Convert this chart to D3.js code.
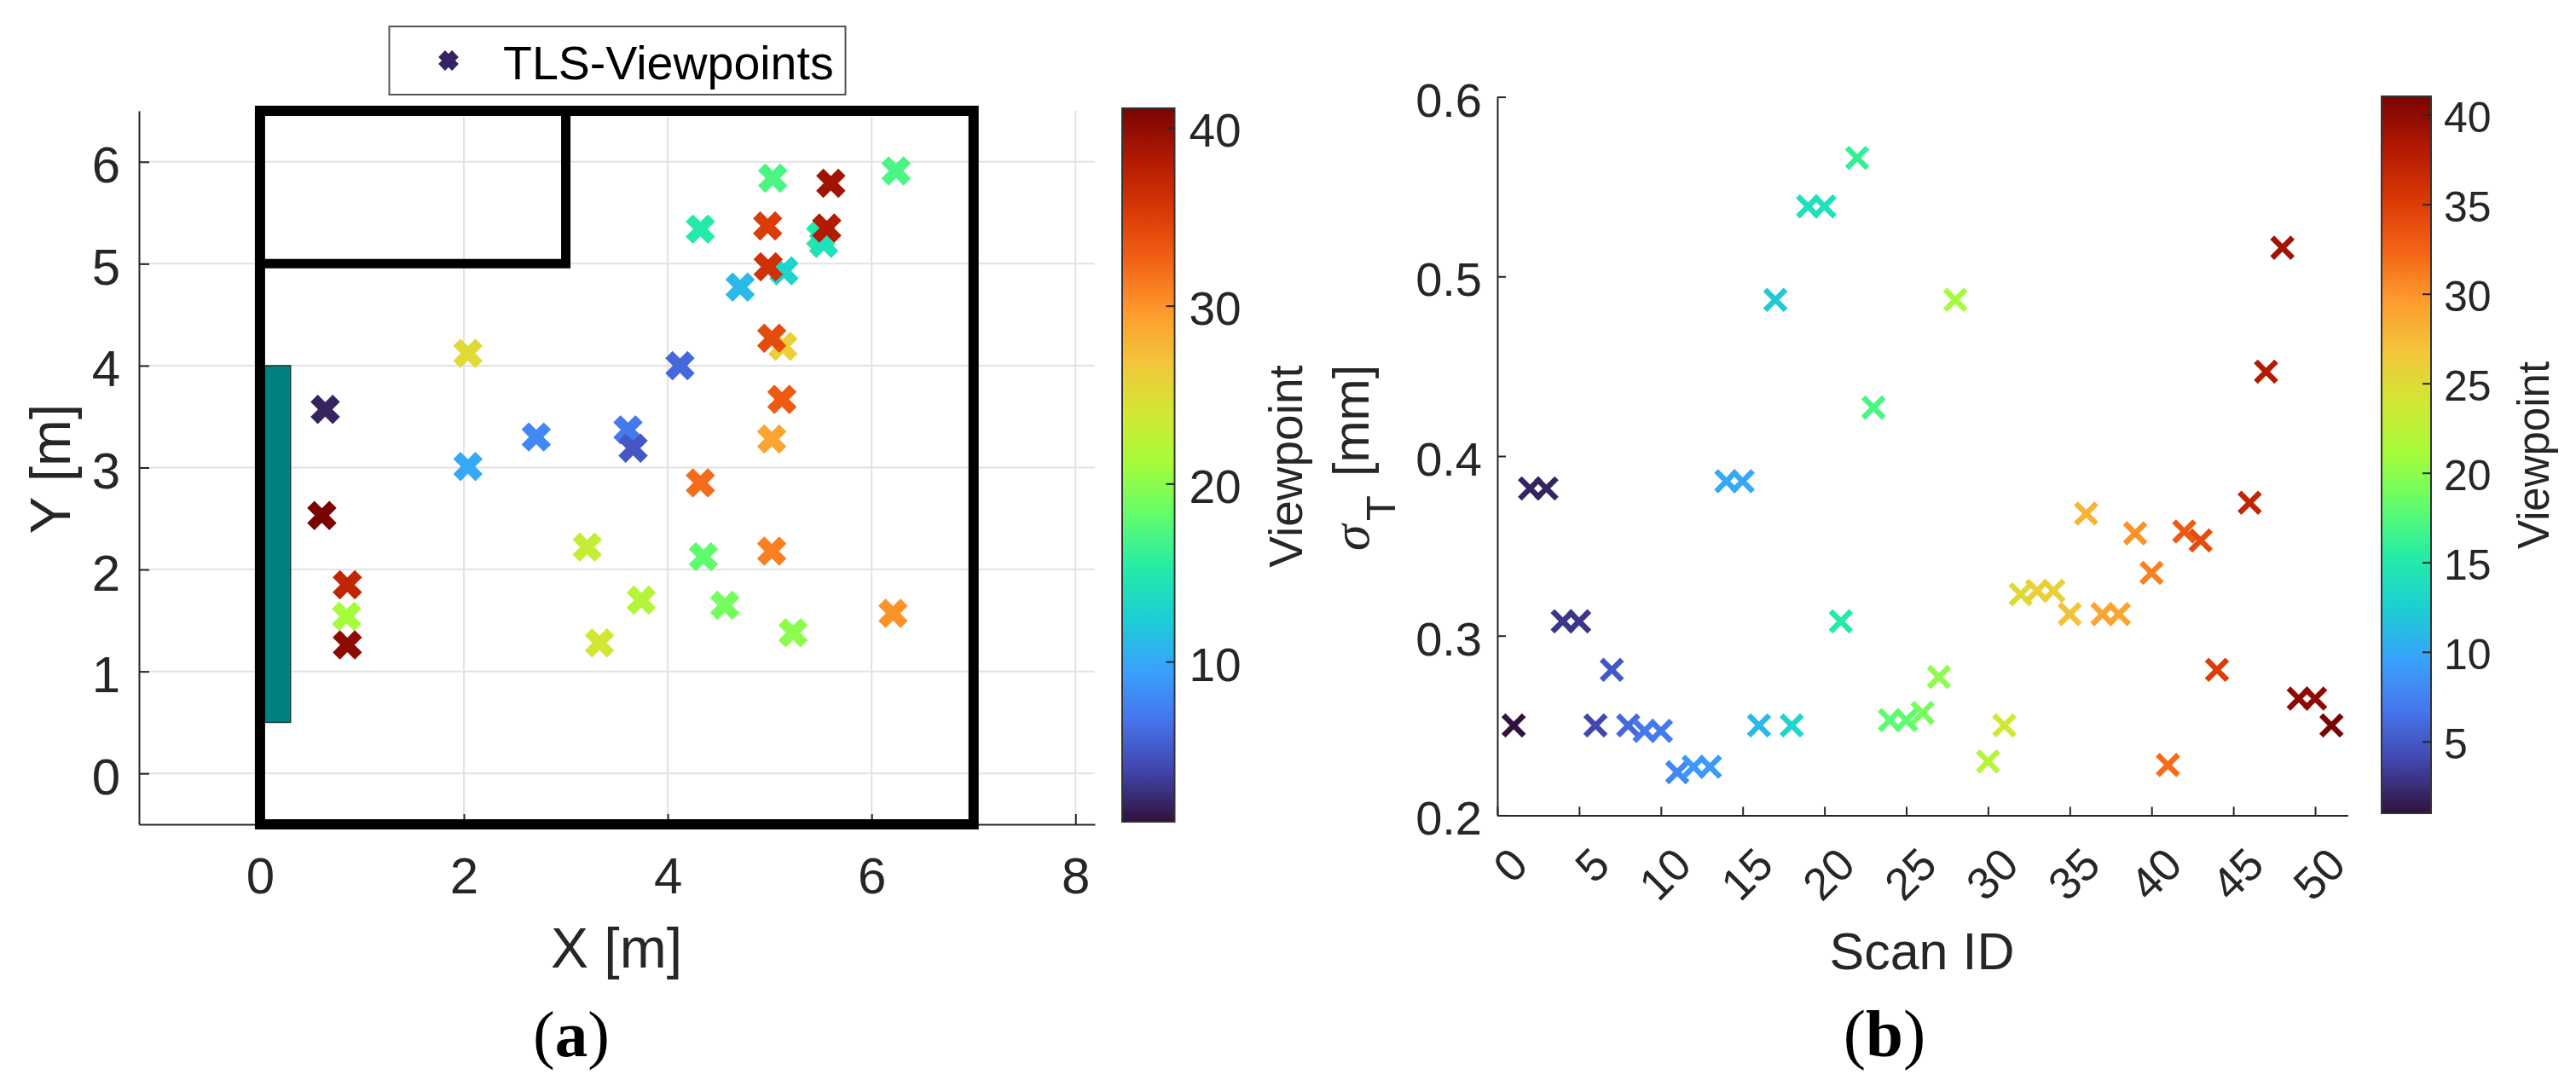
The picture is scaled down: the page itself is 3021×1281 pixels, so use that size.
<!DOCTYPE html>
<html>
<head>
<meta charset="utf-8">
<title>TLS viewpoints</title>
<script src="https://cdn.jsdelivr.net/npm/d3@7"></script>
<style>
  html, body { margin: 0; background: #fff; }
  text { font-family: "Liberation Sans", Arial, sans-serif; fill: #262626; }
  .caption { font-family: "Liberation Serif", serif; fill: #000; }
  .domain, .tick line { stroke: #262626; stroke-width: 2; }
</style>
</head>
<body>
<svg id="chart" width="3021" height="1281"></svg>
<script>
// --- Data ---
// (a) room plan: one entry per marker
const planX = [0.64, 5.03, 6.24, 4.32, 5.50, 5.53, 5.14, 4.71, 4.12, 2.04, 2.71, 3.61, 3.66, 2.04, 5.13, 4.35, 4.56, 5.23, 0.85, 3.74, 3.21, 3.33, 5.02, 5.02, 6.21, 4.32, 5.12, 5.02, 4.98, 4.985, 0.857, 5.56, 5.6, 0.857, 0.607];
const planY = [3.57, 5.84, 5.91, 5.34, 5.27, 5.20, 4.93, 4.77, 4.00, 3.01, 3.30, 3.37, 3.19, 4.12, 4.19, 2.125, 1.65, 1.38, 1.54, 1.70, 2.22, 1.28, 3.28, 2.18, 1.57, 2.85, 3.67, 4.27, 5.37, 4.97, 1.85, 5.35, 5.79, 1.26, 2.53];
const planViewpoint = [2, 17, 17, 15, 15, 14, 13, 11, 6, 10, 8, 7, 5, 25, 26, 18, 19, 20, 21, 22, 23, 24, 29, 31, 30, 32, 33, 34, 35, 36, 37, 38, 39, 40, 41];

// (b) sigma per scan
const scanId = [1, 2, 3, 4, 5, 6, 7, 8, 9, 10, 11, 12, 13, 14, 15, 16, 17, 18, 19, 20, 21, 22, 23, 24, 25, 26, 27, 28, 30, 31, 32, 33, 34, 35, 36, 37, 38, 39, 40, 41, 42, 43, 44, 46, 47, 48, 49, 50, 51];
const scanSigma = [0.25, 0.382, 0.382, 0.308, 0.308, 0.25, 0.281, 0.25, 0.247, 0.247, 0.224, 0.227, 0.227, 0.386, 0.386, 0.25, 0.487, 0.25, 0.539, 0.539, 0.308, 0.566, 0.427, 0.253, 0.253, 0.257, 0.277, 0.487, 0.23, 0.25, 0.323, 0.325, 0.325, 0.312, 0.368, 0.312, 0.312, 0.357, 0.335, 0.228, 0.358, 0.353, 0.281, 0.374, 0.447, 0.516, 0.265, 0.265, 0.25];
const scanViewpoint = [1, 2, 2, 3, 3, 4, 5, 6, 7, 7, 8, 9, 9, 10, 10, 11, 12, 13, 14, 14, 15, 16, 17, 18, 18, 19, 20, 21, 22, 24, 25, 26, 26, 27, 28, 29, 29, 30, 31, 32, 33, 34, 35, 37, 38, 39, 40, 40, 41];

const planXTicks = [0, 2, 4, 6, 8];
const planYTicks = [0, 1, 2, 3, 4, 5, 6];
const scanXTicks = [0, 5, 10, 15, 20, 25, 30, 35, 40, 45, 50];
const scanYTicks = [0.2, 0.3, 0.4, 0.5, 0.6];
const barTicksA = [10, 20, 30, 40];
const barTicksB = [5, 10, 15, 20, 25, 30, 35, 40];

// turbo colormap stops
const turboStops = ['#30123b', '#4145ab', '#4675ed', '#39a2fc', '#1bcfd4', '#24eca6', '#61fc6c', '#a4fc3b', '#d1e834', '#f3c63a', '#fe9b2d', '#f36315', '#d93806', '#b11901', '#7a0403'];

// --- Scales ---
const color = d3.scaleLinear()
    .domain(turboStops.map((_, i) => 1 + 40 * i / (turboStops.length - 1)))
    .range(turboStops);

const xA = d3.scaleLinear().domain([-1.187, 8.19]).range([163, 1284]);
const yA = d3.scaleLinear().domain([-0.5, 6.5]).range([967, 130]);
const cA = d3.scaleLinear().domain([1, 41]).range([964, 129]);

const xB = d3.scaleLinear().domain([0, 52]).range([1756, 2753.4]);
const yB = d3.scaleLinear().domain([0.2, 0.6]).range([956.4, 113.6]);
const cB = d3.scaleLinear().domain([1, 41]).range([953.8, 113.6]);

const svg = d3.select('#chart');

// gradient for both colorbars
const grad = svg.append('defs').append('linearGradient')
    .attr('id', 'turbo')
    .attr('x1', 0).attr('y1', 1).attr('x2', 0).attr('y2', 0);
grad.selectAll('stop').data(turboStops).enter().append('stop')
    .attr('offset', (d, i) => i / (turboStops.length - 1))
    .attr('stop-color', d => d);

function crossPath(r) {
    return `M${-r},${-r}L${r},${r}M${-r},${r}L${r},${-r}`;
}

function drawCrosses(g, xs, ys, vs, x, y, r, width) {
    g.selectAll('path.cross')
        .data(xs.map((d, i) => ({ x: d, y: ys[i], v: vs[i] })))
        .enter()
        .append('path')
        .attr('class', 'cross')
        .attr('d', crossPath(r))
        .attr('transform', d => `translate(${x(d.x)},${y(d.y)})`)
        .attr('fill', 'none')
        .attr('stroke', d => color(d.v))
        .attr('stroke-width', width);
}

function drawColorbar(scale, ticks, left, right, top, bottom, fontSize, padding) {
    svg.append('rect')
        .attr('x', left).attr('y', top)
        .attr('width', right - left).attr('height', bottom - top)
        .attr('fill', 'url(#turbo)')
        .attr('stroke', '#333')
        .attr('stroke-width', 2);
    const axis = svg.append('g')
        .attr('transform', `translate(${right},0)`)
        .call(d3.axisRight(scale).tickValues(ticks).tickSize(-10).tickPadding(padding));
    axis.select('.domain').remove();
    axis.selectAll('text').attr('font-size', fontSize).attr('dy', '0.4em');
}

function rotatedLabel(text, x, y, size) {
    svg.append('text')
        .attr('transform', `translate(${x},${y}) rotate(-90)`)
        .attr('text-anchor', 'middle')
        .attr('font-size', size)
        .text(text);
}

// --- (a) Room plan ---
const gridA = svg.append('g').attr('stroke', '#e2e2e2').attr('stroke-width', 2);
gridA.selectAll('line.v').data(planXTicks).enter().append('line')
    .attr('x1', d => xA(d)).attr('x2', d => xA(d))
    .attr('y1', yA.range()[1]).attr('y2', yA.range()[0]);
gridA.selectAll('line.h').data(planYTicks).enter().append('line')
    .attr('y1', d => yA(d)).attr('y2', d => yA(d))
    .attr('x1', xA.range()[0]).attr('x2', xA.range()[1]);

const axisLeftA = svg.append('g')
    .attr('transform', `translate(${xA.range()[0]},0)`)
    .call(d3.axisLeft(yA).tickValues(planYTicks).tickFormat(d3.format('d')).tickSize(-12).tickSizeOuter(0).tickPadding(22));
axisLeftA.selectAll('text').attr('font-size', 60).attr('dy', '0.4em');

const axisBottomA = svg.append('g')
    .attr('transform', `translate(0,${yA.range()[0]})`)
    .call(d3.axisBottom(xA).tickValues(planXTicks).tickSize(-12).tickSizeOuter(0).tickPadding(38));
axisBottomA.selectAll('text').attr('font-size', 60);

// wall on the left, then the room outline on top of it
svg.append('rect')
    .attr('x', xA(0)).attr('y', yA(4))
    .attr('width', xA(0.3) - xA(0)).attr('height', yA(0.5) - yA(4))
    .attr('fill', '#008080')
    .attr('stroke', '#1c3c3c')
    .attr('stroke-width', 1.5);

const roomOutline = d3.line().x(d => xA(d[0])).y(d => yA(d[1]));
svg.append('path')
    .attr('d', roomOutline([[0, -0.5], [0, 6.5], [7, 6.5], [7, -0.5]]) + 'Z')
    .attr('fill', 'none').attr('stroke', '#000').attr('stroke-width', 12);
svg.append('path')
    .attr('d', roomOutline([[0, 5], [3, 5], [3, 6.5]]))
    .attr('fill', 'none').attr('stroke', '#000').attr('stroke-width', 11);

drawCrosses(svg.append('g'), planX, planY, planViewpoint, xA, yA, 13, 12);

svg.append('text').attr('x', 723).attr('y', 1135).attr('text-anchor', 'middle').attr('font-size', 66).text('X [m]');
rotatedLabel('Y [m]', 82, 550, 66);

// legend
svg.append('rect')
    .attr('x', 456.5).attr('y', 31).attr('width', 535).attr('height', 80)
    .attr('fill', '#fff').attr('stroke', '#555').attr('stroke-width', 2);
svg.append('path')
    .attr('d', crossPath(8))
    .attr('transform', 'translate(526,71)')
    .attr('fill', 'none').attr('stroke', color(2)).attr('stroke-width', 11);
svg.append('text').attr('x', 590).attr('y', 93).attr('font-size', 55.5).style('fill', '#000').text('TLS-Viewpoints');

drawColorbar(cA, barTicksA, 1316, 1377.5, 127, 964, 55, 17);
rotatedLabel('Viewpoint', 1526.5, 547, 55);

// --- (b) Sigma per scan ---
const axisLeftB = svg.append('g')
    .attr('transform', `translate(${xB.range()[0]},0)`)
    .call(d3.axisLeft(yB).tickValues(scanYTicks).tickFormat(d3.format('.1f')).tickSize(-10).tickSizeOuter(0).tickPadding(18));
axisLeftB.selectAll('text').attr('font-size', 56).attr('dy', '0.4em');

const axisBottomB = svg.append('g')
    .attr('transform', `translate(0,${yB.range()[0]})`)
    .call(d3.axisBottom(xB).tickValues(scanXTicks).tickSize(-10).tickSizeOuter(0));
axisBottomB.selectAll('text')
    .attr('font-size', 53)
    .attr('x', 0).attr('y', 0).attr('dy', '0.35em')
    .attr('text-anchor', 'end')
    .attr('transform', 'translate(25,48) rotate(-45)');

drawCrosses(svg.append('g'), scanId, scanSigma, scanViewpoint, xB, yB, 12, 6.5);

svg.append('text').attr('x', 2254).attr('y', 1137).attr('text-anchor', 'middle').attr('font-size', 61).text('Scan ID');

// sigma_T [mm] runs upward from the symbol
const sigmaLabel = svg.append('text').attr('transform', 'translate(1605,646) rotate(-90)').attr('font-size', 59);
sigmaLabel.append('tspan').attr('x', 0).attr('y', 0).attr('font-size', 62).attr('font-style', 'italic').attr('font-family', '"Liberation Serif", serif').text('σ');
sigmaLabel.append('tspan').attr('x', 35).attr('y', 31).attr('font-size', 49).text('T');
sigmaLabel.append('tspan').attr('x', 87).attr('y', 0).text('[mm]');

drawColorbar(cB, barTicksB, 2793, 2851, 113, 954, 50, 15);
rotatedLabel('Viewpoint', 2989, 534, 51);

// --- Captions ---
function caption(letter, x, y, size) {
    const t = svg.append('text').attr('class', 'caption')
        .attr('x', x).attr('y', y).attr('text-anchor', 'middle').attr('font-size', size);
    t.append('tspan').text('(');
    t.append('tspan').attr('font-weight', 'bold').text(letter);
    t.append('tspan').text(')');
}
caption('a', 670, 1239, 77);
caption('b', 2210, 1239, 79);
</script>
</body>
</html>
